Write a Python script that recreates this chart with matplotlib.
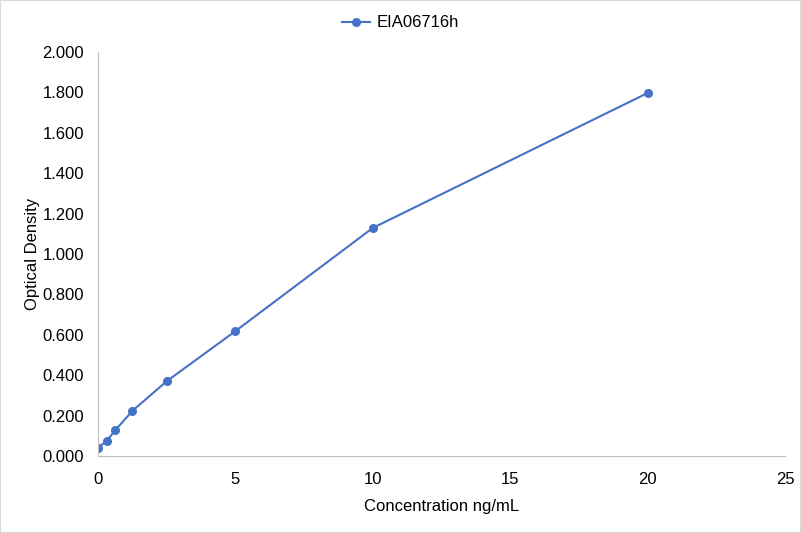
import matplotlib.pyplot as plt
from matplotlib.patches import Rectangle

concentration = [0, 0.312, 0.625, 1.25, 2.5, 5, 10, 20]
optical_density = [0.040, 0.074, 0.127, 0.223, 0.370, 0.618, 1.129, 1.797]
series_name = "EIA06716h"

plt.rcParams['font.family'] = ['Liberation Sans', 'DejaVu Sans']

fig = plt.figure(figsize=(8.01, 5.33), dpi=100)
ax = fig.add_axes([0.1223, 0.1445, 0.8577, 0.7579])

ax.plot(concentration, optical_density, color='#4472C4', marker='o',
        markersize=5.5, linewidth=1.5, label=series_name)

ax.set_xlim(0, 25)
ax.set_ylim(0, 2.0)
ax.set_xticks(range(0, 26, 5))
ax.set_yticks([i * 0.2 for i in range(11)])
ax.set_yticklabels([f"{i * 0.2:.3f}" for i in range(11)])

for side in ['top', 'right']:
    ax.spines[side].set_visible(False)
for side in ['left', 'bottom']:
    ax.spines[side].set_color('#BFBFBF')
ax.tick_params(length=0, labelsize=12, colors='black')
ax.tick_params(axis='y', pad=10)
ax.tick_params(axis='x', pad=11.5)

ax.set_xlabel("Concentration ng/mL", fontsize=12, labelpad=9)
ax.set_ylabel("Optical Density", fontsize=12, labelpad=2)

fig.legend(handles=ax.get_lines(), loc='center', bbox_to_anchor=(0.5, 0.957),
           frameon=False, fontsize=12, handlelength=1.7, handletextpad=0.4)

fig.patches.append(Rectangle((0, 0), 1, 1, transform=fig.transFigure,
                             fill=False, edgecolor='#D9D9D9', linewidth=1.5))

fig.savefig("out.png", dpi=100)
